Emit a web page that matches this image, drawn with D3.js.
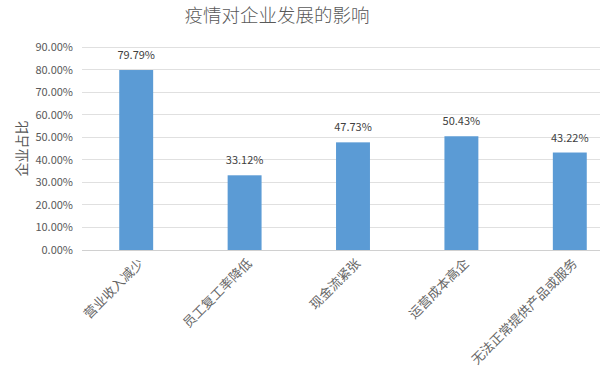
<!DOCTYPE html>
<html>
<head>
<meta charset="utf-8">
<script src="https://cdn.jsdelivr.net/npm/d3@7"></script>
<style>
  body { margin: 0; background: #fff; }
  text { font-family: "Noto Sans CJK SC", "DejaVu Sans", sans-serif; }
</style>
</head>
<body>
<svg id="chart" width="600" height="371"></svg>
<script>
// chart data
let categories = ["营业收入减少", "员工复工率降低", "现金流紧张", "运营成本高企", "无法正常提供产品或服务"];
let values = [79.79, 33.12, 47.73, 50.43, 43.22];
let yTicks = [0, 10, 20, 30, 40, 50, 60, 70, 80, 90];
let title = "疫情对企业发展的影响";
let yTitle = "企业占比";

let svg = d3.select("#chart");
let plotLeft = 82, plotRight = 624; // plot runs off the right edge like the source
let plotTop = 47, plotBottom = 250;

let xScale = d3.scaleBand()
    .domain(categories)
    .range([plotLeft, plotRight])
    .paddingInner(0.687)
    .paddingOuter(0.3435);

let yScale = d3.scaleLinear()
    .domain([0, 90])
    .range([plotBottom, plotTop]);

// gridlines
svg.append("g")
    .selectAll("line")
    .data(yTicks)
    .enter()
    .append("line")
    .attr("x1", plotLeft)
    .attr("x2", plotRight)
    .attr("y1", d => yScale(d))
    .attr("y2", d => yScale(d))
    .attr("stroke", d => d == 0 ? "#d0d0d0" : "#e0e0e0")
    .attr("stroke-width", 1)
    .attr("shape-rendering", "crispEdges");

// y axis labels
let yAxis = d3.axisLeft(yScale).tickValues(yTicks)
    .tickFormat(d => d.toFixed(2) + "%").tickSize(0).tickPadding(9);
let yg = svg.append("g")
    .attr("transform", "translate(" + plotLeft + ",0)")
    .call(yAxis);
yg.select(".domain").remove();
yg.selectAll("text")
    .attr("fill", "#595959")
    .style("font-size", "11px");

// bars
svg.selectAll(".bar")
    .data(values)
    .enter()
    .append("rect")
    .attr("class", "bar")
    .attr("x", (d, i) => xScale(categories[i]))
    .attr("y", d => yScale(d))
    .attr("width", xScale.bandwidth())
    .attr("height", d => plotBottom - yScale(d))
    .attr("fill", "#5b9bd5");

// value labels
svg.selectAll(".val")
    .data(values)
    .enter()
    .append("text")
    .attr("class", "val")
    .attr("x", (d, i) => xScale(categories[i]) + xScale.bandwidth() / 2)
    .attr("y", d => yScale(d) - 11)
    .attr("text-anchor", "middle")
    .attr("fill", "#404040")
    .style("font-size", "11px")
    .text(d => d.toFixed(2) + "%");

// category labels, rotated
svg.selectAll(".cat")
    .data(categories)
    .enter()
    .append("text")
    .attr("class", "cat")
    .attr("transform", d => "translate(" + (xScale(d) + xScale.bandwidth() / 2 + 5) + "," + (plotBottom + 11) + ") rotate(-45)")
    .attr("text-anchor", "end")
    .attr("dy", "0.35em")
    .attr("fill", "#666666")
    .style("font-size", "13px")
    .text(d => d);

// title
svg.append("text")
    .attr("x", 277)
    .attr("y", 22)
    .attr("text-anchor", "middle")
    .attr("fill", "#595959")
    .style("font-size", "18.5px")
    .style("font-weight", "300")
    .text(title);

// y axis title
svg.append("text")
    .attr("transform", "translate(27," + ((plotTop + plotBottom) / 2) + ") rotate(-90)")
    .attr("text-anchor", "middle")
    .attr("fill", "#595959")
    .style("font-size", "14px")
    .text(yTitle);
</script>
</body>
</html>
